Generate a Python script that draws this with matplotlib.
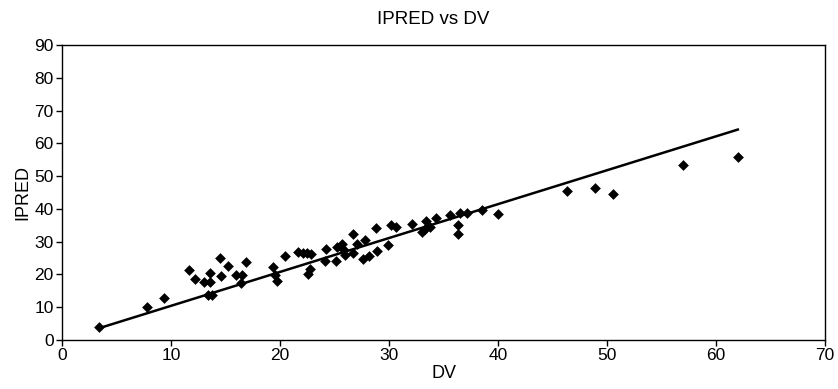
import matplotlib
matplotlib.use("Agg")
import matplotlib.pyplot as plt

plt.rcParams['font.family'] = ['Liberation Sans', 'DejaVu Sans']

dv = [3.42, 7.83, 9.39, 11.65, 12.16, 13.07, 13.58, 13.58, 13.42, 13.73,
      14.50, 14.59, 15.26, 15.99, 16.50, 16.42, 16.88, 19.33, 19.54, 19.70,
      20.43, 21.68, 22.08, 22.45, 22.80, 22.71, 22.55, 24.20, 24.13, 25.14,
      25.20, 25.66, 25.81, 25.96, 26.72, 26.72, 27.06, 27.84, 27.64, 28.19,
      28.93, 29.91, 28.85, 30.14, 30.60, 32.11, 33.00, 33.30, 33.42, 33.76,
      34.27, 35.60, 36.33, 36.30, 36.51, 37.13, 38.53, 40.00, 46.36, 48.90,
      50.58, 57.00, 62.05]
ipred = [3.87, 10.16, 12.72, 21.35, 18.76, 17.79, 20.59, 17.79, 13.73, 13.73,
         24.92, 19.59, 22.48, 19.68, 19.92, 17.24, 23.89, 22.27, 19.83, 18.09,
         25.69, 26.85, 26.63, 26.45, 26.30, 21.51, 20.04, 27.76, 24.25, 24.25,
         28.52, 29.19, 27.91, 25.93, 32.34, 26.54, 29.38, 30.51, 24.71, 25.63,
         27.15, 29.07, 34.08, 34.99, 34.56, 35.54, 33.10, 33.86, 36.30, 34.47,
         37.37, 38.13, 35.08, 32.25, 38.74, 38.74, 39.51, 38.29, 45.45, 46.37,
         44.63, 53.39, 55.92]

trend_x = [3.4, 62.0]
trend_y = [3.6, 64.2]

x_ticks = [0, 10, 20, 30, 40, 50, 60, 70]
y_ticks = [0, 10, 20, 30, 40, 50, 60, 70, 80, 90]

fig = plt.figure(figsize=(8.38, 3.89), dpi=100)
ax = fig.add_axes([62/838, 1-340/389, (825-62)/838, (340-45)/389])

ax.plot(trend_x, trend_y, color='black', linewidth=1.8, zorder=2)
ax.scatter(dv, ipred, marker='D', s=30, color='black', zorder=3, linewidths=0)

ax.set_xlim(0, 70)
ax.set_ylim(0, 90)
ax.set_xticks(x_ticks)
ax.set_yticks(y_ticks)
ax.tick_params(axis='both', direction='out', length=4, width=1, labelsize=12.5, pad=2, colors='black')
for s in ax.spines.values():
    s.set_linewidth(1.0)
    s.set_color('black')

ax.set_title('IPRED vs DV', fontsize=13.5, pad=15, x=0.486)
ax.set_xlabel('DV', fontsize=13, labelpad=1)
ax.set_ylabel('IPRED', fontsize=13, labelpad=2)

fig.savefig('out.png', dpi=100)
